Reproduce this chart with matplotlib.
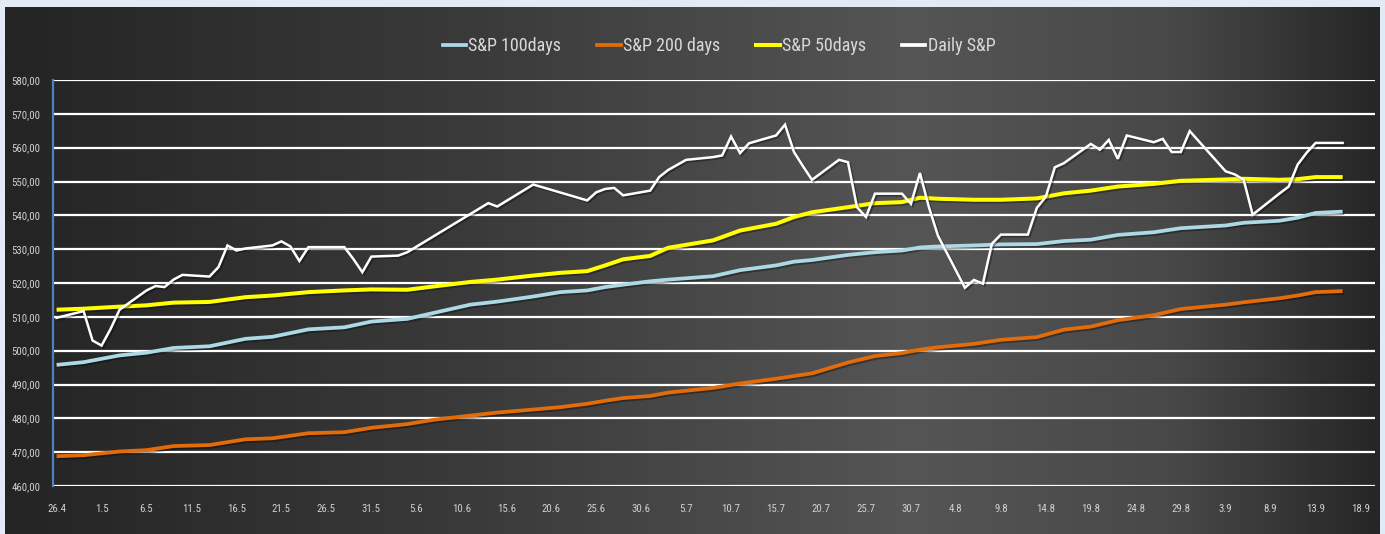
import numpy as np
import pandas as pd
import matplotlib
matplotlib.use("Agg")
import matplotlib.pyplot as plt
import matplotlib.dates as mdates
from matplotlib.lines import Line2D
from matplotlib.colors import LinearSegmentedColormap
import matplotlib.patheffects as pe
from matplotlib import font_manager as fm

# ---------------- data ----------------
daily_dates = [
    "2024-04-26", "2024-04-29", "2024-04-30", "2024-05-01", "2024-05-02", "2024-05-03",
    "2024-05-06", "2024-05-07", "2024-05-08", "2024-05-09", "2024-05-10", "2024-05-13",
    "2024-05-14", "2024-05-15", "2024-05-16", "2024-05-17", "2024-05-20", "2024-05-21",
    "2024-05-22", "2024-05-23", "2024-05-24", "2024-05-28", "2024-05-29", "2024-05-30",
    "2024-05-31", "2024-06-03", "2024-06-04", "2024-06-13", "2024-06-14", "2024-06-18",
    "2024-06-24", "2024-06-25", "2024-06-26", "2024-06-27", "2024-06-28", "2024-07-01",
    "2024-07-02", "2024-07-03", "2024-07-05", "2024-07-08", "2024-07-09", "2024-07-10",
    "2024-07-11", "2024-07-12", "2024-07-15", "2024-07-16", "2024-07-17", "2024-07-18",
    "2024-07-19", "2024-07-22", "2024-07-23", "2024-07-24", "2024-07-25", "2024-07-26",
    "2024-07-29", "2024-07-30", "2024-07-31", "2024-08-01", "2024-08-02", "2024-08-05",
    "2024-08-06", "2024-08-07", "2024-08-08", "2024-08-09", "2024-08-12", "2024-08-13",
    "2024-08-14", "2024-08-15", "2024-08-16", "2024-08-19", "2024-08-20", "2024-08-21",
    "2024-08-22", "2024-08-23", "2024-08-26", "2024-08-27", "2024-08-28", "2024-08-29",
    "2024-08-30", "2024-09-03", "2024-09-04", "2024-09-05", "2024-09-06", "2024-09-09",
    "2024-09-10", "2024-09-11", "2024-09-12", "2024-09-13", "2024-09-16",
]
daily_sp = [
    509.7, 511.7, 503.0, 501.5, 506.4, 512.1,
    517.8, 519.1, 518.8, 521.0, 522.4, 521.9,
    524.7, 531.1, 529.6, 530.2, 531.1, 532.3,
    530.8, 526.5, 530.6, 530.6, 527.1, 523.2,
    527.8, 528.1, 529.1, 543.6, 542.6, 549.1,
    544.4, 546.8, 547.8, 548.1, 545.9, 547.3,
    551.3, 553.4, 556.4, 557.2, 557.7, 563.3,
    558.4, 561.3, 563.6, 566.8, 558.7, 554.5,
    550.5, 556.4, 555.7, 542.4, 539.5, 546.4,
    546.4, 543.4, 552.5, 542.4, 534.0, 518.6,
    520.9, 519.8, 531.6, 534.3, 534.3, 542.2,
    545.5, 554.2, 555.4, 561.1, 559.4, 562.3,
    556.7, 563.6, 561.6, 562.6, 558.7, 558.7,
    564.9, 553.0, 552.1, 550.5, 540.2, 546.5,
    548.5, 555.0, 558.5, 561.4, 561.4,
]

ma_dates = [
    "2024-04-26", "2024-04-29", "2024-05-03", "2024-05-06", "2024-05-09", "2024-05-13",
    "2024-05-17", "2024-05-20", "2024-05-24", "2024-05-28", "2024-05-31", "2024-06-04",
    "2024-06-07", "2024-06-11", "2024-06-14", "2024-06-18", "2024-06-21", "2024-06-24",
    "2024-06-26", "2024-06-28", "2024-07-01", "2024-07-03", "2024-07-08", "2024-07-11",
    "2024-07-15", "2024-07-17", "2024-07-19", "2024-07-23", "2024-07-26", "2024-07-29",
    "2024-07-31", "2024-08-02", "2024-08-06", "2024-08-09", "2024-08-13", "2024-08-16",
    "2024-08-19", "2024-08-22", "2024-08-26", "2024-08-29", "2024-09-03", "2024-09-05",
    "2024-09-09", "2024-09-11", "2024-09-13", "2024-09-16",
]
sp_50days = [
    512.1, 512.4, 513.0, 513.4, 514.2, 514.4,
    515.8, 516.3, 517.3, 517.8, 518.1, 518.0,
    519.0, 520.3, 521.0, 522.2, 523.0, 523.5,
    525.2, 527.0, 528.0, 530.4, 532.6, 535.5,
    537.5, 539.5, 540.9, 542.4, 543.6, 543.9,
    545.2, 544.9, 544.6, 544.6, 545.0, 546.5,
    547.3, 548.5, 549.3, 550.2, 550.6, 550.8,
    550.5, 550.7, 551.3, 551.3,
]
sp_100days = [
    495.8, 496.6, 498.6, 499.4, 500.8, 501.3,
    503.5, 504.1, 506.3, 506.9, 508.6, 509.4,
    511.2, 513.6, 514.5, 516.0, 517.3, 517.8,
    518.8, 519.5, 520.5, 521.0, 522.0, 523.8,
    525.2, 526.3, 526.8, 528.3, 529.1, 529.6,
    530.5, 530.8, 531.1, 531.4, 531.5, 532.4,
    532.8, 534.2, 535.0, 536.2, 537.0, 537.8,
    538.4, 539.3, 540.7, 541.1,
]
sp_200days = [
    468.8, 469.1, 470.2, 470.6, 471.8, 472.1,
    473.8, 474.1, 475.6, 475.9, 477.2, 478.3,
    479.6, 480.8, 481.7, 482.6, 483.3, 484.3,
    485.2, 486.0, 486.6, 487.6, 489.0, 490.3,
    491.7, 492.5, 493.3, 496.5, 498.4, 499.3,
    500.3, 501.0, 502.0, 503.2, 504.0, 506.2,
    507.1, 509.0, 510.5, 512.3, 513.6, 514.3,
    515.5, 516.3, 517.3, 517.6,
]

y_ticks = [460, 470, 480, 490, 500, 510, 520, 530, 540, 550, 560, 570, 580]
x_tick_start = "2024-04-26"
x_tick_end = "2024-09-18"
x_tick_step_days = 5

legend_labels = ["S&P 100days", "S&P 200 days", "S&P 50days", "Daily S&P"]
colors = {"100": "#add8e6", "200": "#e36c0a", "50": "#ffff00", "daily": "#ffffff"}

# ---------------- narrow font selection ----------------
_names = {f.name for f in fm.fontManager.ttflist}
_pref = ["Liberation Sans Narrow", "DejaVu Sans Condensed", "Roboto Condensed",
         "Open Sans Condensed", "Noto Sans Condensed", "Arial Narrow", "Open Sans"]
narrow = next((n for n in _pref if n in _names), None)
if narrow is None:
    cands = [f.name for f in fm.fontManager.ttflist
             if "narrow" in f.name.lower() or "condensed" in f.name.lower()
             or "condensed" in str(f.stretch).lower()]
    narrow = cands[0] if cands else "DejaVu Sans"
font_narrow = [narrow, "DejaVu Sans"]

# ---------------- figure ----------------
W, H = 1385, 534
fig = plt.figure(figsize=(W / 100, H / 100), dpi=100)
fig.patch.set_facecolor("#e2eaf5")

bg = fig.add_axes([5 / W, 0, 1375 / W, 527 / H], zorder=0)
cmap = LinearSegmentedColormap.from_list(
    "bg",
    [(0.0, "#242424"), (0.35, "#3b3b3b"), (0.66, "#555555"), (0.85, "#484848"), (1.0, "#262626")],
)
grad = np.linspace(0, 1, 512)[None, :]
bg.imshow(grad, aspect="auto", cmap=cmap, extent=[0, 1, 0, 1])
bg.set_axis_off()

ax = fig.add_axes([53 / W, (H - 486) / H, (1375 - 53) / W, (486 - 80) / H], zorder=1)
ax.patch.set_alpha(0)

d_daily = pd.to_datetime(daily_dates)
d_ma = pd.to_datetime(ma_dates)
shadow = [pe.SimpleLineShadow(offset=(1.2, -1.2), alpha=0.35, shadow_color="black"), pe.Normal()]

ax.plot(d_ma, sp_200days, color=colors["200"], lw=2.7, solid_capstyle="butt", path_effects=shadow, zorder=3)
ax.plot(d_ma, sp_100days, color=colors["100"], lw=2.7, solid_capstyle="butt", path_effects=shadow, zorder=3)
ax.plot(d_ma, sp_50days, color=colors["50"], lw=2.9, solid_capstyle="butt", path_effects=shadow, zorder=3)
ax.plot(d_daily, daily_sp, color=colors["daily"], lw=1.8, solid_joinstyle="miter", path_effects=shadow, zorder=4)

start = pd.Timestamp(x_tick_start)
end = pd.Timestamp(x_tick_end)
ax.set_xlim(mdates.date2num(start) - 0.4, mdates.date2num(start) + 146.6)
ax.set_ylim(y_ticks[0], y_ticks[-1])

ticks = pd.date_range(start, end, freq=f"{x_tick_step_days}D")
ax.set_xticks(ticks)
ax.set_xticklabels([f"{t.day}.{t.month}" for t in ticks], family=font_narrow, fontsize=7.8, color="#d0d0d0")
ax.set_yticks(y_ticks)
ax.set_yticklabels([f"{v:.2f}".replace(".", ",") for v in y_ticks], family=font_narrow, fontsize=7.8, color="#d0d0d0")
ax.tick_params(axis="both", length=0)
ax.tick_params(axis="x", pad=13)
ax.tick_params(axis="y", pad=9)

ax.grid(axis="y", color="white", lw=1.6, zorder=1)
ax.set_axisbelow(True)
for s in ["top", "right", "bottom"]:
    ax.spines[s].set_visible(False)
ax.spines["left"].set_color("#4f81bd")
ax.spines["left"].set_linewidth(1.6)
ax.axhline(y_ticks[0], color="white", lw=2.0, zorder=2)

handles = [
    Line2D([0], [0], color=colors["100"], lw=2.7),
    Line2D([0], [0], color=colors["200"], lw=2.7),
    Line2D([0], [0], color=colors["50"], lw=2.9),
    Line2D([0], [0], color=colors["daily"], lw=2.7),
]
leg = fig.legend(handles, legend_labels, loc="center", bbox_to_anchor=(719 / W, (H - 46) / H),
                 ncol=4, frameon=False, handlelength=1.3, handletextpad=0.12, columnspacing=2.0,
                 prop={"family": font_narrow, "size": 13})
for t in leg.get_texts():
    t.set_color("#d9d9d9")

fig.savefig("out.png", dpi=100, facecolor=fig.get_facecolor())
